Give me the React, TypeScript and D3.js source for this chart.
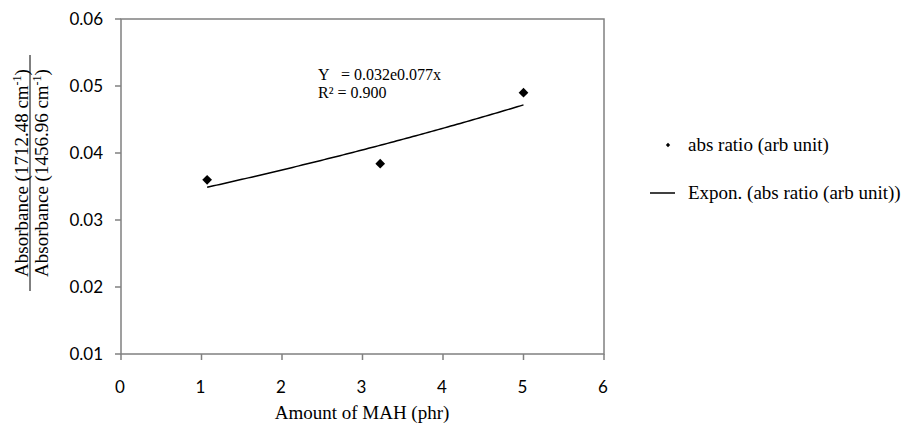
import React from "react";
import * as d3 from "d3";

const xValues = [1.07, 3.22, 5.0];
const yValues = [0.036, 0.0384, 0.049];
const xTicks = [0, 1, 2, 3, 4, 5, 6];
const yTicks = [0.01, 0.02, 0.03, 0.04, 0.05, 0.06];
const yLabelTop = "Absorbance (1712.48 cm";
const yLabelBottom = "Absorbance (1456.96 cm";
const xTitle = "Amount of MAH (phr)";
const eqLine = "Y   = 0.032e0.077x";
const r2Line = "R² = 0.900";
const legendPoints = "abs ratio (arb unit)";
const legendTrend = "Expon. (abs ratio (arb unit))";

export default function App() {
  const W = 906, H = 425;
  const x = d3.scaleLinear().domain([0, 6]).range([121, 604]);
  const y = d3.scaleLinear().domain([0.01, 0.06]).range([354, 19]);

  const lx = xValues;
  const ly = yValues.map((v) => Math.log(v));
  const mx = d3.mean(lx)!, my = d3.mean(ly)!;
  const b = d3.sum(lx.map((v, i) => (v - mx) * (ly[i] - my))) / d3.sum(lx.map((v) => (v - mx) ** 2));
  const a = Math.exp(my - b * mx);
  const x0 = d3.min(xValues)!, x1 = d3.max(xValues)!;
  const xs = d3.range(0, 101).map((i) => x0 + (i / 100) * (x1 - x0));
  const line = d3.line<number>().x((d) => x(d)).y((d) => y(a * Math.exp(b * d)));

  const sans = "Lato, 'Open Sans', sans-serif";
  const serifStyle = { fontFamily: "Liberation Serif, DejaVu Serif, serif" };
  const axisColor = "#808080";
  const diamond = d3.symbol().type(d3.symbolDiamond2).size(60)();
  const cy = 173;

  return (
    <svg width={W} height={H} style={{ position: "absolute", left: 0, top: 0, background: "#fff" }}>
      <rect x={x(0)} y={y(0.06)} width={x(6) - x(0)} height={y(0.01) - y(0.06)} fill="none" stroke={axisColor} strokeWidth={1.5} />
      {yTicks.map((t) => (
        <g key={"y" + t}>
          <line x1={x(0) - 6} x2={x(0)} y1={y(t)} y2={y(t)} stroke={axisColor} strokeWidth={1.5} />
          <text x={103} y={y(t)} dy="0.35em" textAnchor="end" fontFamily={sans} fontSize={17} fill="#000">
            {t.toFixed(2)}
          </text>
        </g>
      ))}
      {xTicks.map((t) => (
        <g key={"x" + t}>
          <line x1={x(t)} x2={x(t)} y1={y(0.01)} y2={y(0.01) + 6} stroke={axisColor} strokeWidth={1.5} />
          <text x={x(t) - 1} y={393} textAnchor="middle" fontFamily={sans} fontSize={17} fill="#000">
            {t}
          </text>
        </g>
      ))}
      <path d={line(xs) || ""} fill="none" stroke="#000" strokeWidth={1.5} />
      {xValues.map((v, i) => (
        <path key={"p" + i} d={diamond || ""} transform={`translate(${x(v)},${y(yValues[i])})`} fill="#000" />
      ))}
      <text x={318} y={80} fontSize={16} fill="#000" style={{ ...serifStyle, whiteSpace: "pre" }}>{eqLine}</text>
      <text x={318} y={98} fontSize={16} fill="#000" style={serifStyle}>{r2Line}</text>
      <path d={d3.symbol().type(d3.symbolDiamond2).size(12)() || ""} transform="translate(668,145)" fill="#000" />
      <text x={688} y={151} fontSize={19} fill="#000" style={serifStyle}>{legendPoints}</text>
      <line x1={650} x2={675} y1={193} y2={193} stroke="#000" strokeWidth={1.5} />
      <text x={688} y={199} fontSize={19} fill="#000" style={serifStyle}>{legendTrend}</text>
      <text x={362} y={419} textAnchor="middle" fontSize={19} fill="#000" style={serifStyle}>{xTitle}</text>
      <g transform={`translate(28,${cy}) rotate(-90)`}>
        <text x={0} y={0} textAnchor="middle" fontSize={19} fill="#000" style={serifStyle}>
          {yLabelTop}<tspan dy={-7} fontSize={12}>-1</tspan><tspan dy={7}>)</tspan>
        </text>
        <line x1={-118} x2={118} y1={2} y2={2} stroke="#000" strokeWidth={1} />
        <text x={0} y={20} textAnchor="middle" fontSize={19} fill="#000" style={serifStyle}>
          {yLabelBottom}<tspan dy={-7} fontSize={12}>-1</tspan><tspan dy={7}>)</tspan>
        </text>
      </g>
    </svg>
  );
}
